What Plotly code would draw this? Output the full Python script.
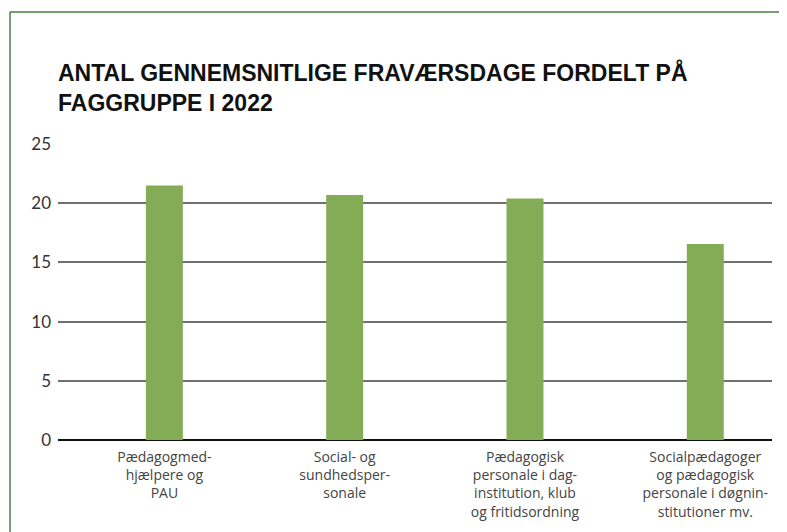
import plotly.graph_objects as go

categories = [
    "Pædagogmed-<br>hjælpere og<br>PAU",
    "Social- og<br>sundhedsper-<br>sonale",
    "Pædagogisk<br>personale i dag-<br>institution, klub<br>og fritidsordning",
    "Socialpædagoger<br>og pædagogisk<br>personale i døgnin-<br>stitutioner mv.",
]
values = [21.5, 20.7, 20.4, 16.55]
y_ticks = [0, 5, 10, 15, 20, 25]

# page has an 8px body margin; work in figure coordinates
OFF = 8
W, H = 787 - OFF, 532 - OFF
L, R, T, B = 58 - OFF, 15, 144 - OFF, 92
pw, ph = W - L - R, H - T - B

def px(x):
    return (x - OFF - L) / pw

def py(y):
    return (H - B - (y - OFF)) / ph

fig = go.Figure(
    go.Bar(
        x=list(range(len(categories))),
        y=values,
        width=0.205,
        marker=dict(color="#84ac56", line=dict(width=0)),
    )
)

fig.update_layout(
    width=W,
    height=H,
    margin=dict(l=L, r=R, t=T, b=B),
    paper_bgcolor="white",
    plot_bgcolor="white",
    showlegend=False,
    font=dict(family="Open Sans, Liberation Sans, Arial", color="#333333"),
    title=dict(
        text="<b>ANTAL GENNEMSNITLIGE FRAVÆRSDAGE FORDELT PÅ<br>FAGGRUPPE I 2022</b>",
        x=px(58),
        xref="paper",
        xanchor="left",
        y=1 - 73 / H,
        yref="container",
        yanchor="top",
        font=dict(size=23, color="#111111", family="Liberation Sans, Arial"),
    ),
    xaxis=dict(
        tickmode="array",
        tickvals=list(range(len(categories))),
        ticktext=categories,
        range=[-0.59, 3.37],
        showgrid=False,
        showline=False,
        zeroline=False,
        ticks="",
        ticklabelstandoff=7,
        tickfont=dict(size=14, color="#444444", family="Open Sans, Liberation Sans, Arial"),
        tickangle=0,
    ),
    yaxis=dict(
        range=[0, 25],
        tickvals=y_ticks,
        showgrid=True,
        gridcolor="#707070",
        gridwidth=1.5,
        zeroline=True,
        zerolinecolor="#111111",
        zerolinewidth=1.5,
        showline=False,
        ticks="",
        ticklabelstandoff=6,
        tickfont=dict(size=17, color="#333333", family="Lato, Liberation Sans, Arial"),
    ),
    shapes=[
        dict(type="line", xref="paper", yref="paper",
             x0=px(10), x1=px(10), y0=py(12), y1=py(540),
             line=dict(color="#4a7f45", width=1.5)),
        dict(type="line", xref="paper", yref="paper",
             x0=px(10), x1=px(795), y0=py(12), y1=py(12),
             line=dict(color="#4a7f45", width=1.5)),
    ],
)

fig.write_html("out.html")
